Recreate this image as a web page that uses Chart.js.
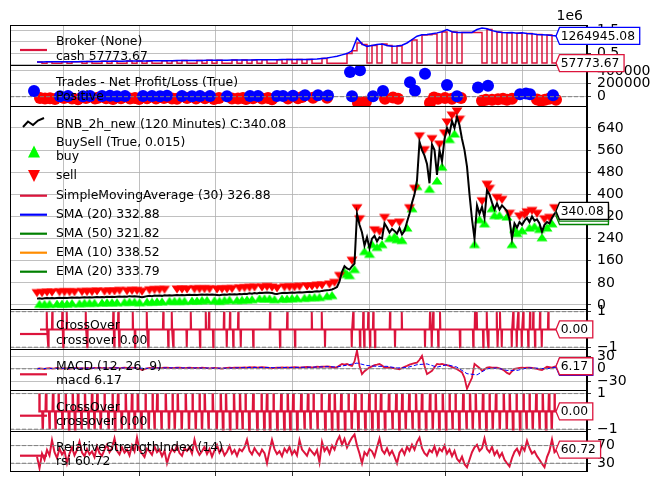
<!DOCTYPE html>
<html>
<head>
<meta charset="utf-8">
<title>BNB_2h_new backtest</title>
<script src="https://cdn.jsdelivr.net/npm/chart.js@4.4.1/dist/chart.umd.min.js"></script>
<style>
  body { margin: 0; background: #fff; }
  canvas { display: block; }
</style>
</head>
<body>
<canvas id="chart" width="658" height="486"></canvas>
<script>
// x is the bar slot along the time axis (one slot every few bars)
const xTicks = [10.4, 41.0, 71.6, 102.2, 132.8, 163.4, 194.0]

// broker observer, in millions, one value every 2 slots
let brokerValue = [
    0.10, 0.10, 0.11, 0.11, 0.11, 0.12, 0.12, 0.12, 0.12, 0.13,
    0.13, 0.13, 0.13, 0.14, 0.14, 0.14, 0.14, 0.14, 0.15, 0.15,
    0.15, 0.15, 0.15, 0.16, 0.16, 0.16, 0.16, 0.16, 0.17, 0.17,
    0.17, 0.17, 0.17, 0.17, 0.18, 0.18, 0.18, 0.18, 0.18, 0.19,
    0.19, 0.19, 0.19, 0.19, 0.20, 0.20, 0.20, 0.20, 0.20, 0.21,
    0.21, 0.21, 0.21, 0.21, 0.22, 0.23, 0.24, 0.26, 0.28, 0.32,
    0.36, 0.42, 0.48, 0.60, 1.17, 0.90, 0.80, 0.84, 0.88, 0.90,
    0.84, 0.80, 0.82, 0.85, 0.95, 1.10, 1.25, 1.32, 1.33, 1.36,
    1.40, 1.45, 1.55, 1.45, 1.42, 1.42, 1.42, 1.42, 1.55, 1.62,
    1.58, 1.50, 1.45, 1.42, 1.40, 1.42, 1.38, 1.40, 1.37, 1.36,
    1.33, 1.32, 1.30, 1.28, 1.265,
]
let brokerCash = [
    0.10, 0.05, 0.11, 0.05, 0.05, 0.12, 0.05, 0.12, 0.12, 0.05,
    0.13, 0.05, 0.05, 0.14, 0.05, 0.14, 0.05, 0.05, 0.15, 0.05,
    0.15, 0.05, 0.15, 0.05, 0.05, 0.16, 0.05, 0.16, 0.05, 0.17,
    0.05, 0.05, 0.17, 0.05, 0.18, 0.05, 0.18, 0.05, 0.05, 0.19,
    0.05, 0.19, 0.05, 0.19, 0.05, 0.20, 0.05, 0.05, 0.20, 0.05,
    0.21, 0.05, 0.21, 0.05, 0.22, 0.05, 0.05, 0.26, 0.05, 0.05,
    0.05, 0.05, 0.48, 0.60, 0.95, 0.88, 0.06, 0.84, 0.06, 0.90,
    0.84, 0.06, 0.82, 0.06, 0.06, 1.08, 0.06, 1.30, 1.32, 1.35,
    0.06, 1.44, 0.06, 1.44, 0.06, 1.42, 1.42, 1.42, 1.42, 0.06,
    1.55, 0.06, 1.43, 0.06, 1.40, 0.06, 1.38, 0.06, 1.37, 0.06,
    1.33, 0.06, 1.30, 0.06, 0.058,
]
const lastValue = 1264945.08
const lastCash = 57773.67

// trades, net profit / loss
let winX = [9.2, 12.4, 18.4, 21.2, 26, 29.2, 32, 35.2, 42.4, 46,
    49.2, 52, 58, 62, 65.2, 69.2, 76, 85.2, 88.4, 96,
    98.4, 102.4, 107.2, 112.4, 116.4, 125.2, 126, 129.2, 134.4, 138.4,
    149.2, 151.2, 155.2, 164, 168, 176.4, 180.4, 193.2, 195.6, 197.2, 206.4]
let winPnl = [8000, 12000, 6000, 10000, 9000, 14000, 7000, 12000, 9000, 11000,
    8000, 13000, 10000, 7000, 12000, 9000, 8000, 11000, 10000, 9000,
    12000, 14000, 21000, 21000, 18000, 384000, 5000, 411000, 5000, 90000,
    224000, 91000, 357000, 181000, 5000, 144000, 171000, 37000, 48000, 37000, 21000]
let lossX = [1.2, 3.2, 5.2, 7.2, 10.8, 14, 16.4, 19.6, 23.2, 24.4,
    27.6, 30.4, 33.6, 37.2, 39.2, 40.8, 44, 47.6, 50.8, 54,
    56, 60, 63.6, 67.2, 70.8, 72.8, 78, 80.4, 82.4, 83.6,
    86.4, 90, 92.4, 94, 100.4, 104.4, 106, 110.4, 116, 128.4,
    130, 131.6, 139.2, 142.4, 144.4, 157.2, 158.8, 160.4, 163.2, 166,
    169.6, 178, 179.6, 182, 184.4, 186.4, 188, 190, 200, 201.6,
    203.2, 204.8, 207.6]
let lossPnl = [-20000, -30000, -25000, -35000, -20000, -28000, -40000, -22000, -30000, -18000,
    -26000, -35000, -24000, -30000, -20000, -38000, -25000, -30000, -22000, -28000,
    -34000, -20000, -30000, -25000, -36000, -22000, -28000, -30000, -20000, -35000,
    -26000, -30000, -22000, -40000, -28000, -24000, -5000, -16000, -16000, -96000,
    -96000, -80000, -32000, -11000, -32000, -96000, -11000, -32000, -21000, -32000,
    -21000, -64000, -48000, -48000, -40000, -32000, -48000, -32000, -43000, -64000,
    -48000, -32000, -48000]

// BNB close, one value per slot
let close = [
    23, 24, 23, 24, 25, 24, 25, 24, 25, 26, 25, 26, 25, 26, 27, 26, 27, 26, 27, 28,
    27, 28, 27, 28, 29, 28, 29, 28, 30, 29, 30, 29, 30, 31, 30, 31, 30, 32, 31, 32,
    31, 30, 28, 30, 32, 33, 32, 34, 33, 34, 33, 35, 34, 35, 34, 35, 36, 35, 36, 35,
    36, 37, 36, 37, 36, 37, 38, 37, 38, 37, 38, 37, 36, 35, 37, 38, 37, 39, 38, 39,
    38, 40, 39, 41, 40, 42, 41, 43, 42, 44, 43, 44, 45, 44, 43, 41, 40, 42, 43, 44,
    43, 44, 45, 44, 45, 46, 45, 46, 47, 48, 47, 49, 50, 49, 51, 52, 53, 54, 56, 60,
    65, 85, 120, 140, 132, 128, 140, 150, 330, 290, 262, 215, 245, 205, 240, 250, 230, 245, 240, 295,
    280, 262, 275, 268, 258, 278, 255, 268, 300, 330, 370, 400, 450, 590, 560, 540, 510, 440, 580, 560,
    470, 560, 520, 600, 640, 620, 665, 640, 680, 650, 600, 560, 500, 400, 310, 240, 360, 330, 355, 315,
    415, 400, 370, 345, 367, 345, 360, 350, 340, 310, 240, 295, 280, 300, 290, 305, 315, 300, 320, 305,
    310, 295, 265, 290, 300, 295, 315, 330, 340.08,
]
let buySlots = [1, 3, 5, 8, 10, 12, 14, 17, 19, 21, 23, 26, 28, 30, 32, 35, 37, 39, 41, 44,
    46, 48, 50, 53, 55, 57, 59, 62, 64, 66, 68, 71, 73, 75, 77, 80, 82, 84, 86, 89,
    91, 93, 95, 98, 100, 102, 104, 107, 109, 111, 113, 116, 118,
    123, 124, 125, 127, 131, 133, 134, 136, 138, 141, 143, 144, 146, 148, 150, 152, 157, 160, 162,
    165, 167, 175, 177, 179, 182, 183, 185, 188, 190, 191, 192, 194, 197, 199, 201, 202, 204, 206]
let sellSlots = [0, 2, 4, 6, 9, 11, 13, 15, 18, 20, 22, 24, 27, 29, 31, 33, 36, 38, 40, 42,
    45, 47, 49, 51, 56, 58, 60, 63, 65, 67, 69, 72, 74, 76, 78, 81, 83, 85, 87, 90,
    92, 94, 96, 99, 101, 103, 105, 108, 110, 112, 114, 117, 119,
    121, 126, 128, 129, 135, 137, 139, 142, 145, 149, 151, 153, 155, 158, 161, 163, 164, 166, 168, 169,
    178, 180, 181, 184, 186, 189, 193, 195, 196, 198, 200, 203, 205, 207]
let maNames = ['SimpleMovingAverage (30)', 'SMA (20)', 'SMA (50)', 'EMA (10)', 'EMA (20)']
let maLast = [326.88, 332.88, 321.82, 338.52, 333.79]
let maColors = ['#dc143c', 'blue', 'green', 'darkorange', 'green']

// SMA crossover events
let cross1Up = [3.9, 6.1, 10.1, 11.9, 19.5, 30.5, 32.5, 38.3, 43.9, 50.5, 53.9, 61.5, 67.5, 68.8,
    74.8, 77.2, 80.5, 93.2, 100.1, 109.9, 113.9, 126.5, 130.5, 132.5, 134.5, 141.2, 145.9,
    157.2, 158.5, 161.2, 175.2, 175.9, 179.9, 183.9, 185.2, 190.5, 192.5, 194.5, 197.2,
    198.5, 201.2, 204.5]
let cross1Down = [4.5, 10.5, 20.1, 30.9, 32.9, 39.2, 44.5, 52.5, 54.5, 59.9, 65.2, 70.5, 75.9,
    78.5, 81.5, 86.5, 97.2, 103.2, 115.2, 125.9, 129.2, 130.9, 133.2, 135.2, 143.2, 155.2,
    157.9, 160.5, 169.2, 174.5, 178.5, 180.5, 184.3, 185.9, 189.9, 191.9, 193.9, 196.5,
    199.2, 201.9]

// MACD, one value per slot; signal every 4 slots
let macd = [
    0, 1, 0.5, -0.5, 1, 1.5, 0.5, 1, 2, 1, 0.5, 1.5, 1, 0, 1, 1.5, 2, 1, 1.5, 1,
    2, 1.5, 1, 2, 1.5, 2.5, 1.5, 2, 1, 1.5, 2, 2.5, 2, 1.5, 2, 3, 2, 1.5, 2.5, 2,
    1.5, 0, -3, -1, 1, 2, 1.5, 2.5, 2, 1.5, 2, 3, 2.5, 2, 1.5, 2, 2.5, 3, 2, 1.5,
    2, 2.5, 2, 1.5, 2, 1.5, 2.5, 2, 1.5, 1, 1.5, 2, 1.5, 1, 0.5, 1.5, 2, 2.5, 2, 2.5,
    3, 2.5, 3, 3.5, 3, 4, 3.5, 4, 3, 3.5, 4, 3.5, 3, 2, 1, 2, 2.5, 3, 3.5, 3,
    3.5, 3, 3.5, 4, 3.5, 3, 3.5, 4, 4.5, 4, 3.5, 4, 5, 4.5, 5, 5.5, 6, 5, 4, 3,
    4, 8, 12, 10, 12, 9, 7, 18, 45, 7, -13, -6, -1, 3, 6, 9, 10, 12, 8, 3,
    3, 3, 2, 1, 0, -1, 2, 5, 7, 10, 12, 14, 15, 22, 32, 7, -13, -9, -5, 4,
    12, 11, 12, 10, 9, 7, 4, 2, -1, -5, -9, -22, -49, -35, -22, 12, 7, 2, -5, -1,
    3, 4, 3, 3, 3, 1, -1, -5, -10, -13, -6, 0, 1, 2, 3, 2, 3, 3, 2, 1,
    0, -2, -3, 1, 5, 4, 3, 5, 6.17,
]
let signal = [
    0.5, 0.8, 1, 1.1, 1.3, 1.5, 1.7, 1.8, 2, 2, 1.8, 1, 1.8, 2.2, 2.3, 2.1, 2, 1.8, 1.5, 1.5,
    2.3, 3, 3.4, 3.3, 2.5, 3.2, 3.5, 3.8, 4.3, 5.2, 4.5, 9, 14, 8, 6, 6, 2, 3, 10, 12,
    4, 10, 4, -12, -15, 0, 2, -4, -4, 2, 1.5, 0, 4.5,
]

// MACD crossover events
let cross2Up = [1.0, 3.6, 6.4, 8.6, 11.5, 14.3, 16.4, 19.2, 22.0, 24.1, 27.0, 30.2, 32.4, 35.5,
    38.0, 40.3, 43.4, 46.2, 48.1, 51.5, 54.2, 56.3, 59.5, 62.2, 65.0, 67.1, 70.3, 73.5, 75.6,
    78.8, 81.2, 83.4, 86.5, 89.8, 92.0, 94.6, 97.7, 100.3, 102.5, 105.7, 108.4, 110.6, 113.8,
    116.9, 119.1, 121.7, 124.6, 127.3, 129.8, 132.9, 135.4, 137.6, 140.8, 143.7, 146.1, 148.9,
    151.6, 154.0, 157.2, 159.5, 162.3, 165.0, 167.4, 170.5, 173.2, 175.5, 178.4, 181.0, 183.6,
    186.7, 189.1, 191.8, 194.6, 197.0, 199.7, 202.3, 204.8, 207.0]
let cross2Down = [2.3, 5.0, 7.4, 10.2, 12.8, 15.2, 17.8, 20.6, 23.0, 25.5, 28.6, 31.2, 33.9, 36.7,
    39.1, 41.8, 44.7, 47.0, 49.8, 52.8, 55.1, 57.9, 60.8, 63.5, 66.0, 68.6, 71.9, 74.4, 77.2,
    80.0, 82.2, 84.9, 88.1, 90.9, 93.2, 96.1, 98.9, 101.3, 104.1, 107.0, 109.4, 112.2, 115.3,
    118.0, 120.4, 123.2, 125.9, 128.5, 131.3, 134.1, 136.5, 139.2, 142.2, 144.9, 147.5, 150.2,
    152.8, 155.6, 158.3, 160.9, 163.6, 166.2, 168.9, 171.8, 174.3, 177.0, 179.7, 182.3, 185.1,
    187.9, 190.4, 193.2, 195.8, 198.3, 201.0, 203.6, 205.9]

// RSI (14), one value per slot
let rsi = [
    45, 19, 52, 38, 60, 48, 82, 55, 42, 63, 50, 58, 30, 52, 66, 48, 60, 79, 54, 46,
    62, 50, 57, 44, 68, 53, 47, 61, 72, 55, 64, 86, 58, 50, 66, 54, 61, 48, 70, 57,
    88, 60, 52, 44, 63, 57, 49, 68, 55, 61, 46, 58, 30, 50, 62, 56, 70, 53, 47, 64,
    58, 66, 52, 83, 60, 49, 57, 67, 51, 62, 45, 59, 71, 54, 63, 48, 56, 69, 52, 60,
    47, 62, 57, 66, 83, 58, 50, 64, 55, 48, 61, 53, 30, 58, 83, 62, 51, 57, 46, 63,
    55, 67, 50, 59, 48, 82, 61, 54, 47, 63, 56, 49, 60, 32, 78, 58, 66, 52, 70, 61,
    80, 91, 72, 85, 66, 78, 88, 95, 70, 52, 30, 55, 48, 62, 57, 45, 66, 86, 60, 52,
    64, 49, 58, 45, 30, 54, 62, 50, 67, 58, 72, 61, 78, 88, 64, 53, 47, 60, 55, 68,
    49, 63, 57, 70, 52, 61, 46, 58, 40, 33, 45, 28, 21, 38, 55, 66, 72, 58, 64, 86,
    62, 55, 67, 49, 58, 44, 53, 38, 30, 23, 42, 56, 63, 50, 68, 59, 81, 64, 52, 57,
    46, 38, 29, 21, 44, 58, 84, 55, 60.72,
]

let brokerTicks = [0, 0.5, 1.0, 1.5]
let tradeTicks = [0, 200000, 400000]
let priceTicks = [0, 80, 160, 240, 320, 400, 480, 560, 640]
let crossTicks = [-1, 1]
let macdTicks = [-30, 0, 30]
let rsiTicks = [30, 70]

const crimson = '#dc143c'
const lime = '#00ff00'
const lastSlot = close.length - 1

function stepped(values, step) {
    return values.map((v, k) => ({ x: k * step, y: v }))
}
function pairs(xs, ys) {
    return xs.map((x, k) => ({ x: x, y: ys[k] }))
}
function onClose(slots) {
    return slots.map(i => ({ x: i, y: close[i] }))
}
function impulses(upX, downX, first, last) {
    let ev = upX.map(x => [x, 1]).concat(downX.map(x => [x, -1])).sort((a, b) => a[0] - b[0])
    let out = [{ x: first, y: 0 }]
    ev.forEach(e => out.push({ x: e[0] - 0.15, y: 0 }, { x: e[0], y: e[1] }, { x: e[0] + 0.15, y: 0 }))
    out.push({ x: last, y: 0 })
    return out
}

// triangle markers drawn off-centre so they sit just under / over the close
function triangle(color, up) {
    let c = document.createElement('canvas')
    c.width = 12
    c.height = 26
    let g = c.getContext('2d')
    g.fillStyle = color
    g.beginPath()
    if (up) {
        g.moveTo(6, 14.5); g.lineTo(11.5, 22.5); g.lineTo(0.5, 22.5)
    } else {
        g.moveTo(6, 11.5); g.lineTo(11.5, 3.5); g.lineTo(0.5, 3.5)
    }
    g.closePath()
    g.fill()
    return c
}

const minus = v => String(v).replace('-', '\u2212')

function panel(weight, min, max, ticks, fmt) {
    return {
        type: 'linear',
        position: 'right',
        stack: 'panels',
        stackWeight: weight,
        min: min,
        max: max,
        afterBuildTicks: s => { s.ticks = ticks.map(v => ({ value: v })) },
        afterFit: s => { s.width = 71 },
        grid: { color: '#b0b0b0', lineWidth: 0.8, tickColor: '#000', tickLength: 4 },
        border: { color: '#000', width: 1 },
        ticks: {
            color: '#000', padding: 6, autoSkip: false,
            font: { family: 'DejaVu Sans', size: 14 },
            callback: fmt || minus,
        },
    }
}

function line(yAxisID, data, color, width, extra) {
    return Object.assign({
        yAxisID: yAxisID, data: data, borderColor: color, borderWidth: width,
        pointRadius: 0, fill: false, tension: 0,
    }, extra || {})
}
function dots(yAxisID, data, color, style) {
    return {
        yAxisID: yAxisID, data: data, showLine: false, pointRadius: 6,
        pointStyle: style || 'circle', pointBackgroundColor: color, pointBorderWidth: 0,
    }
}

// listed bottom to top, reversed because Chart.js paints the first dataset last
let datasets = [
    line('yBroker', stepped(brokerCash, 2), crimson, 1.5, { stepped: true }),
    line('yBroker', stepped(brokerValue, 2), 'blue', 1.5),
    dots('yTrades', pairs(lossX, lossPnl), 'red'),
    dots('yTrades', pairs(winX, winPnl), 'blue'),
    dots('yPrice', onClose(buySlots), lime, triangle(lime, true)),
    dots('yPrice', onClose(sellSlots), 'red', triangle('red', false)),
    line('yPrice', stepped(close, 1), '#000', 2),
    line('yCross1', impulses(cross1Up, cross1Down, 1.2, lastSlot), crimson, 2),
    line('yMacd', stepped(macd, 1), crimson, 1.8),
    line('yMacd', stepped(signal, 4), 'blue', 1, { borderDash: [4, 2] }),
    line('yCross2', impulses(cross2Up, cross2Down, 0.8, lastSlot), crimson, 2.4),
    line('yRsi', stepped(rsi, 1), crimson, 2),
].reverse()

// each dataset only paints inside its own panel
const panelClip = {
    id: 'panelClip',
    beforeDatasetDraw(chart, args) {
        let s = chart.scales[args.meta.yAxisID]
        let a = chart.chartArea
        chart.ctx.save()
        chart.ctx.beginPath()
        chart.ctx.rect(a.left, s.top, a.right - a.left, s.bottom - s.top)
        chart.ctx.clip()
    },
    afterDatasetDraw(chart) {
        chart.ctx.restore()
    },
}

function tag(ctx, x0, yc, str, color) {
    ctx.font = '12.3px "DejaVu Sans"'
    let w = ctx.measureText(str).width
    let h = 17
    let x1 = x0 + 4.7 + w + 4.7
    ctx.beginPath()
    ctx.moveTo(x0, yc)
    ctx.lineTo(x0 + 3.5, yc - h / 2)
    ctx.lineTo(x1, yc - h / 2)
    ctx.lineTo(x1, yc + h / 2)
    ctx.lineTo(x0 + 3.5, yc + h / 2)
    ctx.closePath()
    ctx.fillStyle = '#fff'
    ctx.fill()
    ctx.lineWidth = 1.3
    ctx.strokeStyle = color
    ctx.stroke()
    ctx.fillStyle = '#000'
    ctx.textAlign = 'left'
    ctx.textBaseline = 'middle'
    ctx.fillText(str, x0 + 4.7, yc + 0.5)
}

function handle(ctx, x, y, color) {
    ctx.strokeStyle = color
    ctx.lineWidth = 2.2
    ctx.setLineDash([])
    ctx.beginPath()
    ctx.moveTo(x + 10, y)
    ctx.lineTo(x + 37, y)
    ctx.stroke()
}

const overlay = {
    id: 'overlay',
    afterDatasetsDraw(chart) {
        let ctx = chart.ctx
        let a = chart.chartArea
        let s = chart.scales

        // horizontal reference lines
        ctx.save()
        ctx.strokeStyle = '#808080'
        ctx.lineWidth = 1
        ctx.setLineDash([4, 2])
        let hl = [['yTrades', 0], ['yCross1', 1], ['yCross1', -1], ['yMacd', 0],
            ['yCross2', 1], ['yCross2', -1], ['yRsi', 70], ['yRsi', 30]]
        hl.forEach(h => {
            let y = s[h[0]].getPixelForValue(h[1])
            ctx.beginPath()
            ctx.moveTo(a.left, y)
            ctx.lineTo(a.right, y)
            ctx.stroke()
        })
        ctx.restore()

        // panel frames
        ctx.save()
        ctx.strokeStyle = '#000'
        ctx.lineWidth = 1
        ;['yBroker', 'yTrades', 'yPrice', 'yCross1', 'yMacd', 'yCross2', 'yRsi'].forEach(id => {
            ctx.strokeRect(a.left + 0.5, Math.round(s[id].top) + 0.5, a.right - a.left - 1, s[id].bottom - s[id].top)
        })
        ctx.restore()

        // legends
        ctx.save()
        let lx = a.left
        let tx = a.left + 46
        ctx.font = '12.4px "DejaVu Sans"'
        ctx.fillStyle = '#000'
        ctx.textAlign = 'left'
        ctx.textBaseline = 'middle'
        let two = (id, dy, first, second, color) => {
            let t = s[id].top
            if (color) handle(ctx, lx, t + dy, color)
            ctx.fillStyle = '#000'
            ctx.fillText(first, tx, t + dy - 8)
            ctx.fillText(second, tx, t + dy + 6.5)
        }
        two('yBroker', 25, 'Broker (None)', 'cash ' + lastCash.toFixed(2), crimson)
        two('yTrades', 25.5, 'Trades - Net Profit/Loss (True)', 'Positive')
        ctx.fillStyle = 'blue'
        ctx.beginPath()
        ctx.arc(lx + 24, s.yTrades.top + 26, 6, 0, Math.PI * 2)
        ctx.fill()

        let pt = s.yPrice.top
        ctx.strokeStyle = '#000'
        ctx.lineWidth = 2
        ctx.beginPath()
        ctx.moveTo(lx + 13, pt + 21)
        ctx.lineTo(lx + 18, pt + 15.5)
        ctx.lineTo(lx + 23, pt + 19)
        ctx.lineTo(lx + 28, pt + 14.5)
        ctx.lineTo(lx + 34, pt + 12)
        ctx.stroke()
        ctx.fillStyle = '#000'
        ctx.fillText('BNB_2h_new (120 Minutes) C:' + close[lastSlot].toFixed(2), tx, pt + 19)
        two('yPrice', 44.5, 'BuySell (True, 0.015)', 'buy')
        ctx.fillStyle = lime
        ctx.beginPath()
        ctx.moveTo(lx + 24, pt + 39.5)
        ctx.lineTo(lx + 30, pt + 51.5)
        ctx.lineTo(lx + 18, pt + 51.5)
        ctx.fill()
        ctx.fillStyle = 'red'
        ctx.beginPath()
        ctx.moveTo(lx + 24, pt + 76)
        ctx.lineTo(lx + 30, pt + 64)
        ctx.lineTo(lx + 18, pt + 64)
        ctx.fill()
        ctx.fillStyle = '#000'
        ctx.fillText('sell', tx, pt + 70)
        maNames.forEach((name, k) => {
            let y = pt + 89.7 + k * 19
            handle(ctx, lx, y, maColors[k])
            ctx.fillStyle = '#000'
            ctx.fillText(name + ' ' + maLast[k].toFixed(2), tx, y)
        })

        two('yCross1', 25, 'CrossOver', 'crossover 0.00', crimson)
        two('yMacd', 25.3, 'MACD (12, 26, 9)', 'macd ' + macd[lastSlot].toFixed(2), crimson)
        two('yCross2', 25.7, 'CrossOver', 'crossover 0.00', crimson)
        two('yRsi', 24.7, 'RelativeStrengthIndex (14)', 'rsi ' + rsi[lastSlot].toFixed(2), crimson)
        ctx.restore()
    },
    afterDraw(chart) {
        let ctx = chart.ctx
        let s = chart.scales
        let a = chart.chartArea
        let x0 = s.x.getPixelForValue(lastSlot) - 1
        ctx.save()
        tag(ctx, x0, s.yBroker.getPixelForValue(lastValue / 1e6), lastValue.toFixed(2), 'blue')
        tag(ctx, x0, s.yBroker.getPixelForValue(lastCash / 1e6), lastCash.toFixed(2), crimson)
        maLast.forEach((v, k) => tag(ctx, x0, s.yPrice.getPixelForValue(v), v.toFixed(2), maColors[k]))
        tag(ctx, x0, s.yPrice.getPixelForValue(close[lastSlot]), close[lastSlot].toFixed(2), '#000')
        tag(ctx, x0, s.yCross1.getPixelForValue(0), '0.00', crimson)
        tag(ctx, x0, s.yMacd.getPixelForValue(signal[signal.length - 1]), signal[signal.length - 1].toFixed(2), 'blue')
        tag(ctx, x0, s.yMacd.getPixelForValue(macd[lastSlot]), macd[lastSlot].toFixed(2), crimson)
        tag(ctx, x0, s.yCross2.getPixelForValue(0), '0.00', crimson)
        tag(ctx, x0, s.yRsi.getPixelForValue(rsi[lastSlot]), rsi[lastSlot].toFixed(2), crimson)

        ctx.font = '14px "DejaVu Sans"'
        ctx.fillStyle = '#000'
        ctx.textAlign = 'right'
        ctx.textBaseline = 'middle'
        ctx.fillText('1e6', a.right - 4, 16)
        ctx.restore()
    },
}

const ctx = document.getElementById('chart').getContext('2d')
let chart = new Chart(ctx, {
    type: 'line',
    data: { datasets: datasets },
    options: {
        responsive: false,
        animation: false,
        devicePixelRatio: 1,
        events: [],
        layout: { padding: { left: 10, top: 25, right: 0, bottom: 0 } },
        plugins: { legend: { display: false }, tooltip: { enabled: false } },
        scales: {
            x: {
                type: 'linear',
                min: -10.8,
                max: 220,
                afterBuildTicks: s => { s.ticks = xTicks.map(v => ({ value: v })) },
                afterFit: s => { s.height = 15 },
                grid: { color: '#b0b0b0', lineWidth: 0.8, tickColor: '#000', tickLength: 5 },
                border: { color: '#000', width: 1 },
                ticks: { display: false },
            },
            yBroker: panel(40, -0.03, 1.75, brokerTicks, v => v.toFixed(1)),
            yTrades: panel(41, -145000, 493000, tradeTicks),
            yPrice: panel(203, -14.5, 719.5, priceTicks),
            yCross1: panel(40, -1.1, 1.15, crossTicks),
            yMacd: panel(41, -52, 48.5, macdTicks),
            yCross2: panel(41, -1.1, 1.2, crossTicks),
            yRsi: panel(40, 12.5, 103, rsiTicks),
        },
    },
    plugins: [panelClip, overlay],
})
</script>
</body>
</html>
